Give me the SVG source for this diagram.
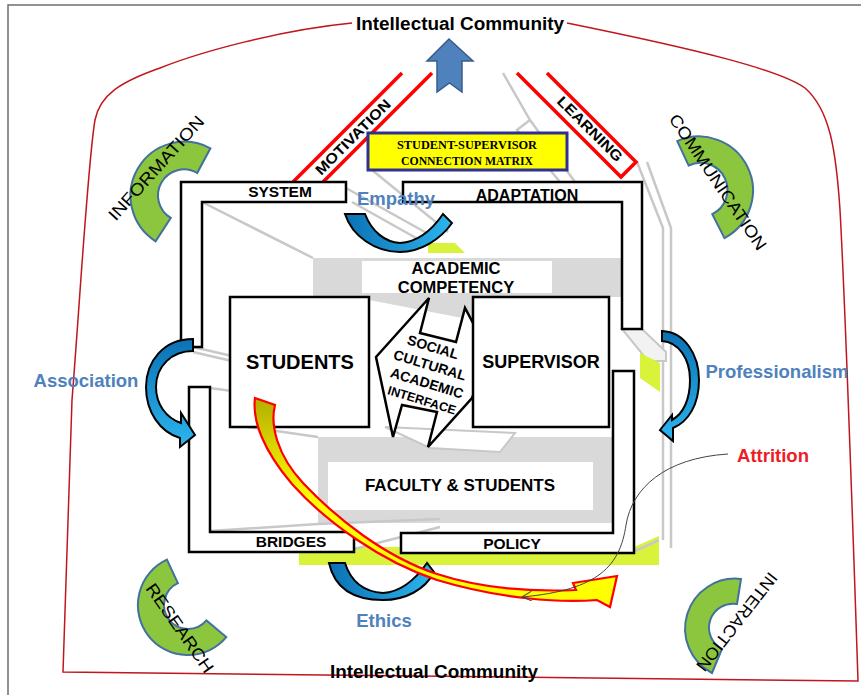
<svg xmlns="http://www.w3.org/2000/svg" width="861" height="695" viewBox="0 0 861 695">
<defs>
<style>
text{font-family:"Liberation Sans",Arial,sans-serif}
.b{font-weight:bold}
.t{text-anchor:middle;fill:#000}
.fr{fill:#fff;stroke:#000;stroke-width:2.5;stroke-linejoin:miter}
.gl{stroke:#c8c8c8;stroke-width:2.5;fill:none}
.green{fill:#8cc63e;stroke:#41719c;stroke-width:2}
.blue{stroke:#000;stroke-width:2}
.lab{fill:#4f81bd;font-weight:bold;font-size:18.5px;text-anchor:middle}
.yg{fill:#d9f23a}
.serif{font-family:"Liberation Serif","Times New Roman",serif;font-weight:bold}
</style>
<linearGradient id="bg" x1="0" y1="0" x2="1" y2="0"><stop offset="0" stop-color="#0b71b3"/><stop offset="1" stop-color="#2cb5ee"/></linearGradient>
<linearGradient id="bgv" x1="0" y1="0" x2="0" y2="1"><stop offset="0" stop-color="#0b71b3"/><stop offset="1" stop-color="#2cb5ee"/></linearGradient>
<linearGradient id="ry" x1="0" y1="0" x2="0" y2="1"><stop offset="0" stop-color="#b3ad00"/><stop offset="0.25" stop-color="#dcd800"/><stop offset="0.5" stop-color="#ffff00"/></linearGradient>
<marker id="open" markerWidth="12" markerHeight="12" refX="10" refY="5" orient="auto" markerUnits="userSpaceOnUse"><path d="M0,0 L10,5 L0,10" fill="none" stroke="#444" stroke-width="1"/></marker>
</defs>

<rect width="861" height="695" fill="#fff"/>
<path d="M8,695 V5 H861" fill="none" stroke="#6d6d6d" stroke-width="1.5"/>

<g id="community-boundary">
<path d="M352,23 C280,30 200,52 160,68 C120,82 100,95 95,120 C88,160 80,300 72,400 L63,672 L858,681 C852,500 845,300 840,210 C836,150 830,110 805,88 C780,70 700,50 567,23" fill="none" stroke="#c0161c" stroke-width="1.5"/>
<text class="t b" x="460" y="30" font-size="18" textLength="208" lengthAdjust="spacingAndGlyphs">Intellectual Community</text>
<text class="t b" x="434" y="678" font-size="18" textLength="208" lengthAdjust="spacingAndGlyphs">Intellectual Community</text>
</g>

<g id="background-wireframe">
<polyline class="gl" points="503,73 530,120 575,182"/>
<polyline class="gl" points="530,120 517,130 560,182"/>
<polyline class="gl" points="637,162 663,228 663,540"/>
<polyline class="gl" points="647,162 671,228 671,548"/>
<line class="gl" x1="202" y1="202" x2="313" y2="258"/>
<line class="gl" x1="346" y1="188" x2="432" y2="236"/>
<line class="gl" x1="352" y1="202" x2="425" y2="243"/>
<line class="gl" x1="372" y1="170" x2="448" y2="232"/>
<line class="gl" x1="193" y1="347" x2="232" y2="356"/>
<line class="gl" x1="193" y1="352" x2="232" y2="361"/>
<line class="gl" x1="210" y1="388" x2="232" y2="391"/>
<polygon points="622,329 642,329 666,352 666,361 648,361" fill="#f2f2f2" stroke="#c8c8c8" stroke-width="2"/>
<polygon class="yg" points="640,353 660,363 660,392 640,378"/>
<polygon class="yg" points="428,243 455,243 465,253 428,253"/>
<polygon class="yg" points="299,547 634,547 659,536 659,565 299,565"/>
<line class="gl" x1="633" y1="552" x2="659" y2="540"/>
</g>

<g id="motivation">
<polygon points="402,73 432,73 323,182 293,182" fill="#fff"/>
<line x1="402" y1="73" x2="293" y2="182" stroke="#ff0000" stroke-width="3.5"/>
<line x1="432" y1="73" x2="323" y2="182" stroke="#ff0000" stroke-width="3.5"/>
<text class="t b" transform="translate(353,137) rotate(-45)" x="0" y="5" font-size="14.5" textLength="100" lengthAdjust="spacingAndGlyphs">MOTIVATION</text>
</g>

<g id="learning">
<polygon points="517,73 547,73 636,162 621,177" fill="#fff"/>
<polyline points="517,73 621,177 636,162 547,73" fill="none" stroke="#ff0000" stroke-width="3.5" stroke-linejoin="miter"/>
<text class="t b" transform="translate(590,129) rotate(45)" x="0" y="5" font-size="14.5" textLength="86" lengthAdjust="spacingAndGlyphs">LEARNING</text>
</g>

<g id="up-arrow">
<polygon points="449,39 473,61 462,61 462,92 449.5,83 437,92 437,61 427,61" fill="#4f81bd" stroke="#385d8a" stroke-width="1.5"/>
</g>

<g id="matrix">
<rect x="368" y="133" width="199" height="37" fill="#ffff00" stroke="#2e3192" stroke-width="3"/>
<text class="t serif" x="467" y="148.5" font-size="13.5" textLength="140" lengthAdjust="spacingAndGlyphs">STUDENT-SUPERVISOR</text>
<text class="t serif" x="467" y="164.5" font-size="13.5" textLength="132" lengthAdjust="spacingAndGlyphs">CONNECTION MATRIX</text>
</g>

<g id="academic-competency">
<rect x="313" y="258" width="309" height="39" fill="#d9d9d9"/>
<polygon points="369,293 473,293 473,320 369,300" fill="#d9d9d9"/>
<rect x="362" y="261" width="190" height="32" fill="#fff"/>
<text class="t b" x="456" y="274" font-size="16.5">ACADEMIC</text>
<text class="t b" x="456" y="293" font-size="16.5">COMPETENCY</text>
</g>

<g id="faculty-students">
<line class="gl" x1="248" y1="427" x2="318" y2="437"/>
<rect x="318" y="437" width="295" height="86" fill="#d9d9d9"/>
<polygon points="385,427 515,433 500,452 430,448" fill="#fff" stroke="#c8c8c8" stroke-width="2"/>
<rect x="328" y="462" width="265" height="48" fill="#fff"/>
<text class="t b" x="460" y="491" font-size="17">FACULTY &amp; STUDENTS</text>
<polyline class="gl" points="210,531 318,524 440,519"/>
<line class="gl" x1="354" y1="549" x2="440" y2="527"/>
</g>

<g id="system">
<polygon class="fr" points="181,182 346,182 346,202 202,202 202,347 181,347"/>
<text class="t b" x="280" y="197" font-size="15.5">SYSTEM</text>
</g>
<g id="adaptation">
<polygon class="fr" points="403,182 642,182 642,329 622,329 622,202 403,202"/>
<text class="t b" x="527" y="201" font-size="16">ADAPTATION</text>
</g>
<g id="bridges">
<polygon class="fr" points="189,387 210,387 210,532 354,532 354,552 189,552"/>
<text class="t b" x="291" y="547" font-size="15.5">BRIDGES</text>
</g>
<g id="policy">
<polygon class="fr" points="613,371 634,371 634,553 401,553 401,533 613,533"/>
<text class="t b" x="512" y="549" font-size="15.5">POLICY</text>
</g>

<g id="interface">
<polygon points="376,357 429,298 420,333 456,342 465,308 490,355 472,398 428,447 437,412 402,405 393,437" fill="#fff" stroke="#000" stroke-width="2.5" stroke-linejoin="miter"/>
<text class="t b" transform="rotate(17 433 347)" x="433" y="352" font-size="14">SOCIAL</text>
<text class="t b" transform="rotate(17 430 365)" x="430" y="370" font-size="14">CULTURAL</text>
<text class="t b" transform="rotate(17 427 383)" x="427" y="388" font-size="14">ACADEMIC</text>
<text class="t b" transform="rotate(17 422 400)" x="422" y="404.5" font-size="12.5">INTERFACE</text>
</g>

<g id="students">
<rect x="230" y="297" width="139" height="130" fill="#fff" stroke="#000" stroke-width="2.5"/>
<text class="t b" x="300" y="369" font-size="20">STUDENTS</text>
</g>
<g id="supervisor">
<rect x="473" y="297" width="136" height="130" fill="#fff" stroke="#000" stroke-width="2.5"/>
<text class="t b" x="541" y="368" font-size="18">SUPERVISOR</text>
</g>

<g id="empathy">
<path class="blue" fill="url(#bg)" d="M345,214 L365,214 C372,232 385,242 400,243 C418,242 432,230 443,214 L452,223 C440,240 420,252 400,252 C375,252 352,236 345,214 Z"/>
<text class="lab" x="396" y="205">Empathy</text>
</g>
<g id="ethics">
<path class="blue" fill="url(#bg)" d="M329,563 L345,563 C352,585 368,592 383,593 C400,592 415,580 427,563 L434,572 C425,590 405,600 383,600 C355,600 335,590 329,563 Z"/>
<text class="lab" x="384" y="627">Ethics</text>
</g>
<g id="association">
<path class="blue" fill="url(#bgv)" d="M193,339 C163,339 146,362 146,387 C146,412 160,432 180,438 L180,447 L195,435 L181,413 L181,423 C166,418 156,404 156,387 C156,366 172,351 193,351 Z"/>
<text class="lab" x="86" y="387">Association</text>
</g>
<g id="professionalism">
<path class="blue" fill="url(#bgv)" d="M662,331 C685,332 699,355 699,380 C699,405 688,422 673,428 L673,441 L660,430 L672,415 L672,420 C683,414 690,400 690,380 C690,358 678,342 662,341 Z"/>
<text class="lab" x="777" y="378">Professionalism</text>
</g>

<g id="information">
<path class="green" d="M210.4,148.3 A54,54 0 0 0 155.6,241.3 L170.8,217.8 A26,26 0 0 1 197.2,173 Z"/>
<text class="t" transform="translate(156,168) rotate(-48)" x="0" y="6" font-size="17" textLength="134" lengthAdjust="spacingAndGlyphs">INFORMATION</text>
</g>
<g id="communication">
<path class="green" d="M677.2,141.1 A54,54 0 0 1 724.5,238.1 L712.3,214.1 A27,27 0 0 0 688.6,165.5 Z"/>
<text class="t" transform="translate(718,182) rotate(56)" x="0" y="6" font-size="17" textLength="160" lengthAdjust="spacingAndGlyphs">COMMUNICATION</text>
</g>
<g id="research">
<path class="green" d="M166.9,559.7 A50,50 0 1 0 226.3,637.1 L206.4,620.4 A24,24 0 1 1 177.9,583.2 Z"/>
<text class="t" transform="translate(180,628) rotate(55)" x="0" y="6" font-size="17" textLength="105" lengthAdjust="spacingAndGlyphs">RESEARCH</text>
</g>
<g id="interaction">
<path class="green" d="M741,579 A50,50 0 0 0 712,673 L722,649 A24,24 0 0 1 737,604 Z"/>
<text class="t" transform="translate(737,622) rotate(128)" x="0" y="6" font-size="17" textLength="120" lengthAdjust="spacingAndGlyphs">INTERACTION</text>
</g>

<g id="connectors">
<path d="M255,398 L275,405 C270,425 277,455 303,483 C336,518 385,557 437,574 C480,588 530,592 576,590 L573,583 L617,576 L610,607 L597,600 C560,603 500,599 437,580 C382,562 326,522 292,484 C263,450 252,420 255,398 Z" fill="url(#ry)" stroke="#ff0000" stroke-width="2.2" stroke-linejoin="miter"/>
<path d="M728,454 C665,458 632,488 626,525 C620,565 600,590 522,597" fill="none" stroke="#444" stroke-width="1" marker-end="url(#open)"/>
</g>
<text x="773" y="462" font-size="18.5" font-weight="bold" fill="#ee1c25" text-anchor="middle">Attrition</text>
</svg>
